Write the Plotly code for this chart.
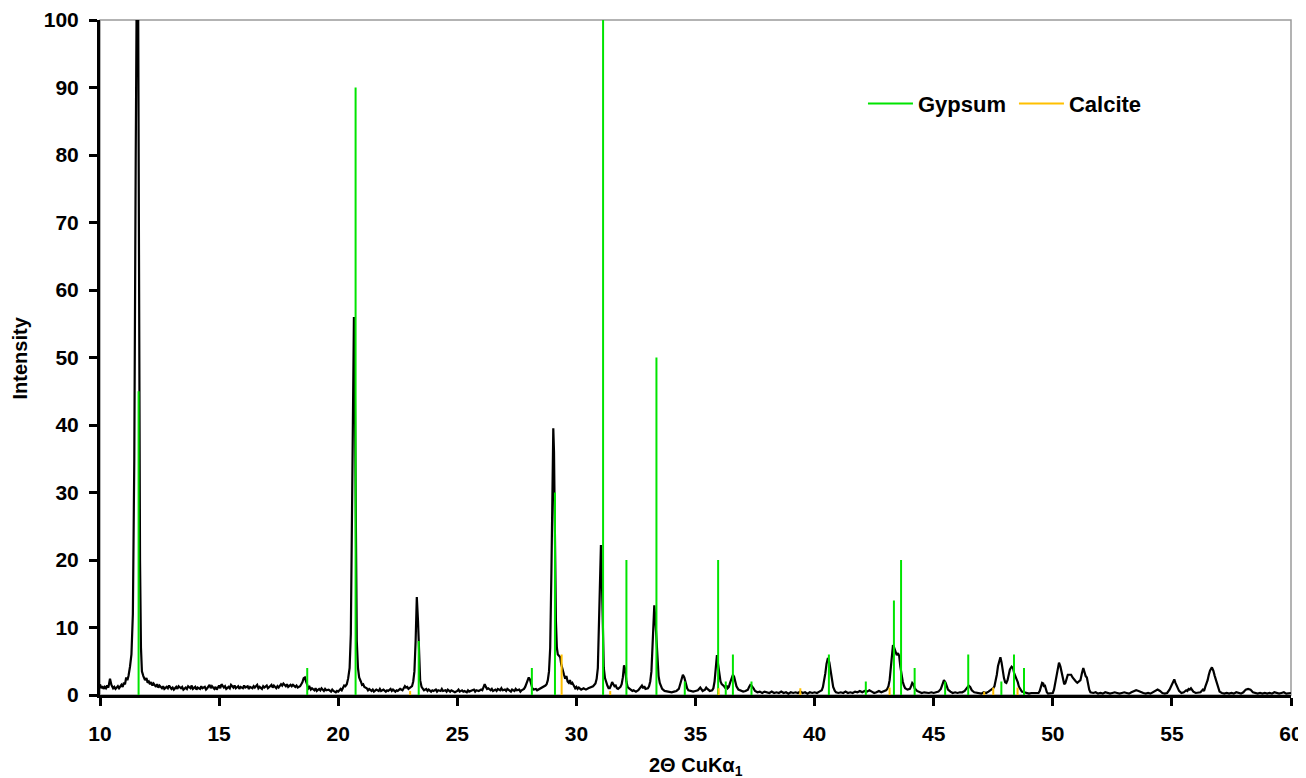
import plotly.graph_objects as go

# ---- diffraction pattern ----
two_theta = [
    10.0, 10.05, 10.1, 10.15, 10.2, 10.25, 10.3, 10.35, 10.42, 10.48,
    10.55, 10.6, 10.65, 10.7, 10.75, 10.8, 10.85, 10.9, 10.95, 11.0,
    11.05, 11.1, 11.15, 11.2, 11.26, 11.32, 11.38, 11.44, 11.5, 11.55,
    11.6, 11.64, 11.68, 11.72, 11.76, 11.82, 11.89, 11.95, 12.0, 12.05,
    12.1, 12.15, 12.2, 12.25, 12.3, 12.35, 12.4, 12.45, 12.5, 12.6,
    12.65, 12.7, 12.8, 12.85, 12.9, 13.0, 13.05, 13.1, 13.2, 13.25,
    13.3, 13.4, 13.45, 13.5, 13.6, 13.65, 13.7, 13.8, 13.85, 13.9,
    14.0, 14.05, 14.1, 14.2, 14.25, 14.3, 14.4, 14.45, 14.5, 14.6,
    14.65, 14.7, 14.8, 14.85, 14.9, 15.0, 15.05, 15.1, 15.2, 15.25,
    15.3, 15.4, 15.45, 15.5, 15.6, 15.65, 15.7, 15.8, 15.85, 15.9,
    16.0, 16.05, 16.1, 16.2, 16.25, 16.3, 16.4, 16.45, 16.5, 16.6,
    16.65, 16.7, 16.8, 16.85, 16.9, 17.0, 17.05, 17.1, 17.2, 17.25,
    17.3, 17.4, 17.45, 17.5, 17.6, 17.65, 17.7, 17.8, 17.85, 17.9,
    18.0, 18.05, 18.1, 18.2, 18.25, 18.3, 18.4, 18.45, 18.5, 18.55,
    18.6, 18.65, 18.7, 18.75, 18.8, 18.85, 18.9, 19.0, 19.05, 19.1,
    19.2, 19.25, 19.3, 19.4, 19.45, 19.5, 19.6, 19.7, 19.75, 19.8,
    19.9, 19.95, 20.0, 20.05, 20.1, 20.15, 20.2, 20.25, 20.3, 20.36,
    20.42, 20.48, 20.53, 20.58, 20.63, 20.66, 20.7, 20.74, 20.78, 20.83,
    20.88, 20.95, 21.0, 21.05, 21.1, 21.2, 21.25, 21.3, 21.4, 21.45,
    21.5, 21.6, 21.7, 21.75, 21.8, 21.9, 22.0, 22.05, 22.1, 22.2,
    22.25, 22.3, 22.4, 22.45, 22.5, 22.6, 22.7, 22.75, 22.8, 22.85,
    22.9, 22.95, 23.0, 23.05, 23.1, 23.15, 23.2, 23.25, 23.3, 23.35,
    23.39, 23.44, 23.5, 23.55, 23.6, 23.7, 23.75, 23.8, 23.9, 23.95,
    24.0, 24.1, 24.15, 24.2, 24.3, 24.35, 24.4, 24.5, 24.55, 24.6,
    24.7, 24.75, 24.8, 24.9, 25.0, 25.05, 25.1, 25.2, 25.25, 25.3,
    25.4, 25.45, 25.5, 25.6, 25.7, 25.75, 25.8, 25.9, 26.0, 26.05,
    26.1, 26.15, 26.2, 26.25, 26.3, 26.4, 26.45, 26.5, 26.6, 26.65,
    26.7, 26.8, 26.85, 26.9, 27.0, 27.05, 27.1, 27.2, 27.25, 27.3,
    27.4, 27.45, 27.5, 27.6, 27.65, 27.7, 27.8, 27.85, 27.9, 27.95,
    28.0, 28.05, 28.1, 28.15, 28.2, 28.3, 28.35, 28.4, 28.5, 28.55,
    28.6, 28.65, 28.7, 28.75, 28.8, 28.85, 28.9, 28.95, 29.0, 29.03,
    29.06, 29.1, 29.14, 29.18, 29.22, 29.27, 29.32, 29.36, 29.42, 29.48,
    29.53, 29.58, 29.63, 29.68, 29.73, 29.78, 29.83, 29.9, 29.95, 30.0,
    30.05, 30.1, 30.2, 30.3, 30.4, 30.5, 30.6, 30.7, 30.8, 30.85,
    30.9, 30.95, 31.0, 31.03, 31.07, 31.11, 31.15, 31.2, 31.25, 31.3,
    31.35, 31.4, 31.45, 31.5, 31.55, 31.6, 31.65, 31.7, 31.75, 31.8,
    31.85, 31.9, 31.95, 32.0, 32.05, 32.1, 32.15, 32.2, 32.3, 32.35,
    32.4, 32.5, 32.6, 32.7, 32.75, 32.8, 32.85, 32.9, 33.0, 33.05,
    33.1, 33.15, 33.2, 33.24, 33.27, 33.31, 33.35, 33.4, 33.45, 33.5,
    33.55, 33.6, 33.7, 33.8, 33.9, 34.0, 34.1, 34.2, 34.3, 34.35,
    34.4, 34.47, 34.53, 34.6, 34.65, 34.7, 34.8, 34.9, 35.0, 35.1,
    35.2, 35.25, 35.3, 35.4, 35.45, 35.5, 35.6, 35.7, 35.75, 35.8,
    35.85, 35.9, 35.95, 36.0, 36.05, 36.1, 36.2, 36.25, 36.3, 36.35,
    36.4, 36.45, 36.5, 36.57, 36.62, 36.67, 36.72, 36.8, 36.9, 37.0,
    37.1, 37.2, 37.25, 37.3, 37.35, 37.4, 37.45, 37.5, 37.6, 37.7,
    37.8, 37.9, 38.0, 38.1, 38.2, 38.3, 38.4, 38.5, 38.6, 38.7,
    38.8, 38.9, 39.0, 39.1, 39.2, 39.3, 39.4, 39.5, 39.6, 39.7,
    39.8, 39.9, 40.0, 40.1, 40.2, 40.3, 40.35, 40.4, 40.45, 40.5,
    40.56, 40.62, 40.67, 40.72, 40.78, 40.85, 40.9, 41.0, 41.1, 41.2,
    41.3, 41.4, 41.5, 41.6, 41.7, 41.8, 41.9, 42.0, 42.1, 42.2,
    42.3, 42.4, 42.5, 42.6, 42.7, 42.8, 42.9, 43.0, 43.05, 43.1,
    43.15, 43.2, 43.25, 43.29, 43.34, 43.4, 43.45, 43.5, 43.55, 43.6,
    43.65, 43.7, 43.75, 43.8, 43.9, 44.0, 44.05, 44.1, 44.15, 44.2,
    44.3, 44.4, 44.5, 44.6, 44.7, 44.8, 44.9, 45.0, 45.1, 45.2,
    45.3, 45.38, 45.43, 45.5, 45.55, 45.6, 45.7, 45.8, 45.9, 46.0,
    46.1, 46.2, 46.3, 46.4, 46.47, 46.53, 46.6, 46.7, 46.8, 46.9,
    47.0, 47.1, 47.2, 47.3, 47.4, 47.5, 47.55, 47.6, 47.65, 47.7,
    47.75, 47.8, 47.85, 47.9, 47.95, 48.0, 48.05, 48.1, 48.15, 48.2,
    48.27, 48.33, 48.38, 48.43, 48.48, 48.53, 48.58, 48.63, 48.7, 48.8,
    48.9, 49.0, 49.1, 49.2, 49.3, 49.4, 49.45, 49.5, 49.55, 49.6,
    49.63, 49.66, 49.7, 49.75, 49.8, 49.9, 50.0, 50.05, 50.1, 50.15,
    50.2, 50.26, 50.32, 50.37, 50.43, 50.48, 50.53, 50.58, 50.63, 50.7,
    50.77, 50.83, 50.9, 50.97, 51.03, 51.1, 51.16, 51.22, 51.28, 51.33,
    51.38, 51.43, 51.48, 51.53, 51.58, 51.7, 51.8, 51.9, 52.0, 52.1,
    52.2, 52.3, 52.4, 52.5, 52.6, 52.7, 52.8, 52.9, 53.0, 53.1,
    53.2, 53.3, 53.4, 53.5, 53.6, 53.7, 53.8, 53.9, 54.0, 54.1,
    54.2, 54.3, 54.4, 54.5, 54.6, 54.7, 54.8, 54.9, 55.0, 55.05,
    55.1, 55.15, 55.2, 55.25, 55.3, 55.4, 55.5, 55.6, 55.65, 55.7,
    55.75, 55.8, 55.85, 55.9, 56.0, 56.1, 56.2, 56.3, 56.35, 56.4,
    56.45, 56.5, 56.55, 56.6, 56.68, 56.74, 56.8, 56.85, 56.9, 56.95,
    57.0, 57.1, 57.2, 57.3, 57.4, 57.5, 57.6, 57.7, 57.8, 57.9,
    58.0, 58.1, 58.2, 58.3, 58.4, 58.5, 58.6, 58.7, 58.8, 58.9,
    59.0, 59.1, 59.2, 59.3, 59.4, 59.5, 59.6, 59.7, 59.8, 59.9, 60.0,
]
intensity = [
    1.6, 1.0, 1.3, 0.9, 1.2, 1.0, 1.4, 1.1, 2.4, 1.5,
    1.0, 1.2, 0.9, 1.1, 1.3, 1.0, 1.2, 1.5, 1.2, 1.8,
    1.6, 2.6, 2.2, 2.9, 4.2, 6, 12, 35, 80, 110,
    105, 60, 20, 7, 3.5, 2.8, 2.2, 2.5, 1.8, 2.0,
    1.6, 1.9, 1.4, 1.7, 1.5, 1.2, 1.6, 1.1, 1.4, 1.0,
    1.3, 0.9, 1.2, 1.0, 1.4, 0.9, 1.1, 0.8, 1.2, 0.9,
    1.3, 1.0, 1.2, 0.8, 1.1, 0.9, 1.3, 1.0, 1.4, 0.9,
    1.2, 0.8, 1.1, 0.9, 1.3, 1.0, 1.2, 0.8, 1.0, 1.5,
    1.0, 1.3, 0.9, 1.2, 0.8, 1.4, 1.0, 1.6, 1.1, 1.3,
    0.9, 1.2, 1.0, 1.5, 1.1, 1.4, 1.0, 1.3, 0.9, 1.2,
    1.0, 1.4, 1.1, 1.3, 0.9, 1.2, 1.0, 1.3, 1.1, 1.5,
    1.0, 1.2, 0.9, 1.3, 1.1, 1.4, 1.0, 1.2, 1.5, 1.1,
    1.4, 1.0, 1.3, 1.1, 1.6, 1.4, 1.7, 1.3, 1.6, 1.2,
    1.5, 1.3, 1.5, 1.2, 1.4, 1.1, 1.3, 1.6, 1.9, 2.5,
    2.6, 2.0, 1.3, 1.0, 1.2, 0.8, 1.0, 0.7, 1.0, 0.6,
    0.9, 0.7, 1.0, 0.6, 0.9, 0.7, 0.8, 0.5, 0.8, 0.6,
    0.4, 0.6, 0.5, 0.8, 0.9, 0.7, 1.0, 1.4, 1.3, 1.6,
    2.5, 4, 9, 25, 50, 56, 45, 20, 8, 4,
    2.6, 2.0, 1.5, 1.6, 1.2, 1.0, 0.7, 0.9, 0.6, 0.8,
    0.5, 0.8, 0.6, 0.9, 0.6, 0.8, 0.5, 0.7, 0.6, 0.9,
    0.6, 0.8, 0.5, 0.7, 0.6, 0.9, 0.7, 1.0, 1.3, 1.1,
    1.2, 0.9, 1.0, 1.1, 1.3, 2.0, 3.5, 8, 14.5, 11,
    5, 2.2, 1.2, 0.9, 0.7, 0.9, 0.6, 0.8, 0.5, 0.7,
    0.6, 0.8, 0.5, 0.7, 0.6, 0.9, 0.6, 0.7, 0.5, 0.8,
    0.5, 0.7, 0.6, 0.4, 0.6, 0.8, 0.5, 0.7, 0.5, 0.6,
    0.4, 0.7, 0.5, 0.6, 0.8, 0.5, 0.7, 0.6, 0.8, 0.7,
    1.1, 1.6, 1.2, 0.9, 1.0, 0.7, 0.9, 0.6, 0.8, 0.6,
    0.9, 0.7, 1.0, 0.7, 0.8, 0.6, 0.9, 0.7, 0.5, 0.8,
    0.6, 0.9, 0.7, 0.8, 0.5, 0.7, 0.9, 1.2, 1.6, 2.0,
    2.6, 2.3, 1.4, 1.0, 0.8, 0.9, 0.7, 0.8, 0.9, 1.0,
    1.1, 1.2, 1.4, 1.6, 2.2, 3.5, 7, 18, 33, 39.5,
    36, 22, 11, 7, 6, 5.8, 5.6, 4.6, 3.6, 3.0,
    2.4, 2.8, 2.0, 1.8, 2.2, 1.6, 1.8, 1.4, 1.0, 1.2,
    0.9, 1.1, 0.8, 1.0, 0.8, 1.0, 1.1, 1.3, 1.7, 2.4,
    4, 10, 19, 22.2, 17, 8, 4, 2.5, 1.8, 1.4,
    1.0, 1.0, 1.4, 1.9, 1.6, 1.3, 1.4, 1.0, 0.9, 1.0,
    1.2, 1.6, 2.6, 4.4, 3.8, 2.0, 1.2, 1.0, 0.8, 0.6,
    0.7, 0.5, 0.7, 1.2, 1.4, 1.0, 1.3, 0.9, 1.0, 1.3,
    2.0, 3.5, 7, 12, 13.3, 11.5, 9, 5, 2.8, 1.8,
    1.2, 0.9, 0.6, 0.5, 0.5, 0.4, 0.5, 0.6, 0.9, 1.5,
    2.2, 3.0, 2.6, 1.6, 1.0, 0.7, 0.6, 0.5, 0.6, 0.7,
    1.1, 0.9, 0.6, 0.8, 1.1, 0.9, 0.6, 0.7, 1.0, 2.0,
    4.0, 5.9, 4.5, 3.0, 2.0, 1.6, 1.3, 1.0, 1.4, 1.0,
    1.2, 1.8, 2.4, 3.0, 2.7, 2.0, 1.3, 0.8, 0.6, 0.5,
    0.6, 0.8, 1.2, 1.5, 1.4, 1.2, 0.9, 0.6, 0.4, 0.5,
    0.3, 0.5, 0.4, 0.3, 0.5, 0.3, 0.4, 0.3, 0.5, 0.3,
    0.4, 0.2, 0.4, 0.3, 0.4, 0.3, 0.5, 0.3, 0.4, 0.2,
    0.4, 0.3, 0.4, 0.3, 0.5, 0.7, 1.2, 2.0, 3.2, 4.6,
    5.5, 4.8, 3.6, 2.2, 1.2, 0.6, 0.4, 0.3, 0.4, 0.3,
    0.5, 0.3, 0.4, 0.3, 0.5, 0.4, 0.6, 0.4, 0.6, 0.5,
    0.7, 0.5, 0.3, 0.4, 0.6, 0.4, 0.5, 0.7, 0.9, 1.3,
    2.2, 4.0, 6.0, 7.4, 7.0, 6.3, 5.9, 6.2, 5.8, 4.2,
    3.0, 2.0, 1.4, 1.0, 0.8, 0.9, 1.3, 1.8, 1.6, 1.0,
    0.6, 0.4, 0.3, 0.4, 0.3, 0.3, 0.4, 0.3, 0.4, 0.5,
    0.9, 1.8, 2.2, 1.8, 1.2, 0.8, 0.5, 0.3, 0.4, 0.3,
    0.4, 0.4, 0.6, 1.0, 1.4, 1.2, 0.7, 0.4, 0.3, 0.3,
    0.2, 0.4, 0.3, 0.5, 0.7, 1.0, 1.3, 2.0, 3.0, 4.3,
    5.2, 5.6, 4.8, 3.5, 2.5, 1.9, 1.8, 2.2, 3.0, 3.8,
    4.2, 4.0, 3.2, 2.8, 2.2, 1.9, 1.2, 0.8, 0.5, 0.4,
    0.3, 0.2, 0.3, 0.3, 0.4, 0.3, 0.6, 1.2, 1.8, 1.7,
    1.2, 1.5, 0.9, 0.4, 0.2, 0.2, 0.3, 0.8, 1.8, 3.0,
    4.2, 4.8, 4.2, 3.3, 2.2, 1.6, 1.8, 2.6, 3.0, 3.0,
    3.0, 2.6, 2.2, 2.0, 1.8, 2.0, 2.2, 3.2, 4.0, 3.4,
    2.8, 2.6, 1.6, 0.8, 0.4, 0.3, 0.4, 0.2, 0.3, 0.2,
    0.4, 0.3, 0.2, 0.3, 0.4, 0.3, 0.2, 0.3, 0.4, 0.3,
    0.2, 0.4, 0.6, 0.7, 0.6, 0.4, 0.3, 0.2, 0.3, 0.2,
    0.4, 0.6, 0.8, 0.6, 0.3, 0.2, 0.3, 0.8, 1.6, 2.1,
    2.3, 1.8, 1.3, 0.9, 0.6, 0.3, 0.4, 0.7, 0.6, 0.9,
    0.8, 1.0, 0.7, 0.5, 0.3, 0.3, 0.4, 0.8, 0.6, 1.2,
    1.6, 2.2, 3.0, 3.6, 4.1, 3.6, 2.8, 2.2, 1.5, 0.9,
    0.5, 0.3, 0.2, 0.3, 0.2, 0.3, 0.2, 0.4, 0.3, 0.2,
    0.4, 0.8, 0.9, 0.8, 0.4, 0.3, 0.2, 0.3, 0.2, 0.3,
    0.2, 0.3, 0.2, 0.4, 0.3, 0.2, 0.3, 0.4, 0.2, 0.3, 0.3,
]
assert len(two_theta) == len(intensity), (len(two_theta), len(intensity))

# ---- reference stick patterns ----
gypsum_pos = [11.62, 18.7, 20.73, 23.38, 28.13, 29.1, 31.12, 32.1, 33.36, 34.55,
              35.95, 36.27, 36.57, 37.35, 40.6, 42.15, 43.33, 43.63, 44.2, 45.48,
              46.45, 47.84, 48.37, 48.79]
gypsum_int = [45, 4, 90, 8, 4, 30, 100, 20, 50, 2,
              20, 2, 6, 2, 6, 2, 14, 20, 4, 2,
              6, 2, 6, 4]
calcite_pos = [23.02, 29.38, 31.42, 35.97, 39.4, 43.15, 47.12, 47.5, 48.52]
calcite_int = [0.6, 6, 0.6, 1.0, 1.0, 1.1, 0.5, 1.1, 1.1]

x_ticks = [10, 15, 20, 25, 30, 35, 40, 45, 50, 55, 60]
y_ticks = [0, 10, 20, 30, 40, 50, 60, 70, 80, 90, 100]

FONT = "Liberation Sans, Arial, sans-serif"


def sticks(pos, vals):
    xs, ys = [], []
    for p, v in zip(pos, vals):
        xs += [p, p, None]
        ys += [0, v, None]
    return xs, ys


fig = go.Figure()
fig.add_trace(go.Scatter(x=two_theta, y=intensity, mode="lines",
                         line=dict(color="black", width=2.2), showlegend=False,
                         hoverinfo="skip"))
gx, gy = sticks(gypsum_pos, gypsum_int)
fig.add_trace(go.Scatter(x=gx, y=gy, mode="lines", name="Gypsum",
                         line=dict(color="#00E400", width=2)))
cx, cy = sticks(calcite_pos, calcite_int)
fig.add_trace(go.Scatter(x=cx, y=cy, mode="lines", name="Calcite",
                         line=dict(color="#FFC000", width=2)))

axis_common = dict(
    showgrid=False, zeroline=False, showline=True, linecolor="black", linewidth=3,
    ticks="outside", ticklen=8, tickwidth=3, tickcolor="black", automargin=False,
    tickfont=dict(family=FONT, size=21, color="black", weight="bold"),
)
fig.update_xaxes(range=[10, 60], tickvals=x_ticks, ticklabelstandoff=10, **axis_common)
fig.update_yaxes(range=[0, 100], tickvals=y_ticks, ticklabelstandoff=6, **axis_common)

fig.add_shape(type="rect", xref="paper", yref="paper", x0=0, x1=1, y0=0, y1=1,
              line=dict(color="#9A9A9A", width=1.5), layer="below")

fig.add_annotation(text="<b>2Θ CuKα<sub>1</sub></b>", xref="paper", yref="paper",
                   x=0.5, y=-0.106, xanchor="center", yanchor="middle", showarrow=False,
                   font=dict(family=FONT, size=20, color="black"))
fig.add_annotation(text="<b>Intensity</b>", xref="paper", yref="paper",
                   x=-0.0672, y=0.5, xanchor="center", yanchor="middle",
                   textangle=-90, showarrow=False,
                   font=dict(family=FONT, size=20, color="black"))

# the page places the figure 8 px from the top-left corner
fig.update_layout(
    width=1298, height=770,
    margin=dict(l=92, r=15, t=12, b=83),
    paper_bgcolor="white", plot_bgcolor="white",
    legend=dict(orientation="h", x=0.6406, y=0.907, xanchor="left", yanchor="top",
                bgcolor="rgba(0,0,0,0)", traceorder="normal", entrywidth=91,
                itemwidth=45,
                font=dict(family=FONT, size=22, color="black", weight="bold")),
)

fig.write_html("out.html")
